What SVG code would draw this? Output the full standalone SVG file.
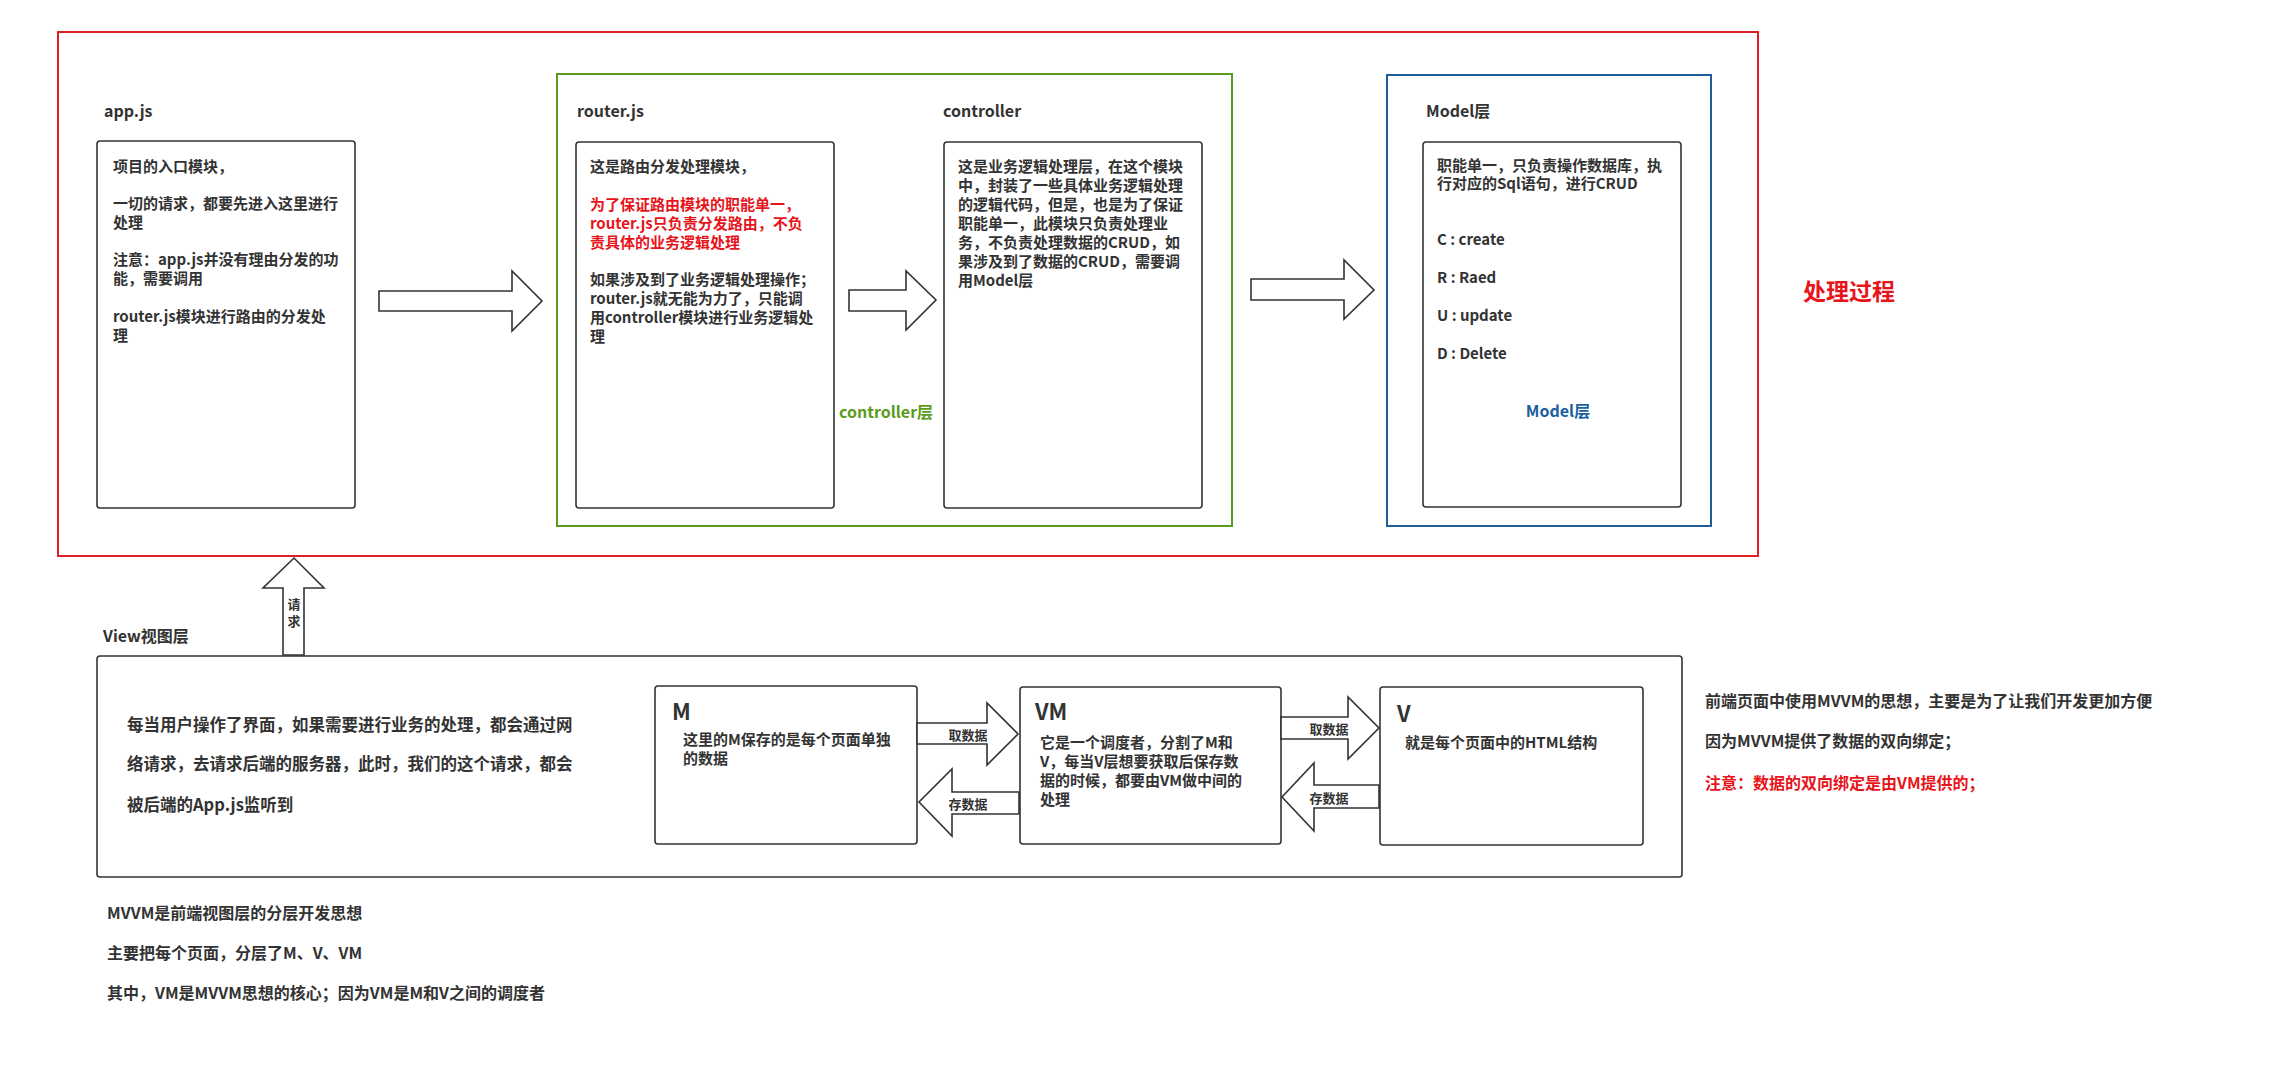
<svg xmlns="http://www.w3.org/2000/svg" width="2275" height="1070" viewBox="0 0 2275 1070">
<style>
text { font-family: "Noto Sans CJK SC", "Microsoft YaHei", sans-serif; font-weight: bold; fill: #333; dominant-baseline: central; }
.t15 { font-size: 15px; }
.t16 { font-size: 16px; }
.tv { font-size: 16.5px; }
.t13 { font-size: 13px; }
.big { font-size: 22px; }
.red { fill: #e8141b; }
.box { fill: #fff; stroke: #333; stroke-width: 1.6; }
.blk { fill: #fff; stroke: #333; stroke-width: 1.6; stroke-linejoin: miter; }
</style>
<rect width="2275" height="1070" fill="#fff"/>

<g id="process-frame">
  <rect x="58" y="32" width="1700" height="524" fill="none" stroke="#e01f26" stroke-width="2"/>
  <text x="1803" y="290" class="red" style="font-size:23px">处理过程</text>
</g>

<g id="controller-layer">
  <rect x="557" y="74" width="675" height="452" fill="none" stroke="#5c9c1c" stroke-width="2"/>
  <text x="839" y="411" class="t16" style="fill:#5c9c1c">controller层</text>
</g>

<g id="model-layer">
  <rect x="1387" y="75" width="324" height="451" fill="none" stroke="#1f5c99" stroke-width="2"/>
</g>

<g id="appjs">
  <text x="104" y="110" class="t16">app.js</text>
  <rect x="97" y="141" width="258" height="367" rx="3" class="box"/>
  <g class="t15">
    <text x="113" y="165">项目的入口模块，</text>
    <text x="113" y="202">一切的请求，都要先进入这里进行</text>
    <text x="113" y="221">处理</text>
    <text x="113" y="258">注意：app.js并没有理由分发的功</text>
    <text x="113" y="277">能，需要调用</text>
    <text x="113" y="315">router.js模块进行路由的分发处</text>
    <text x="113" y="334">理</text>
  </g>
</g>

<g id="routerjs">
  <text x="577" y="110" class="t16">router.js</text>
  <rect x="576" y="142" width="258" height="366" rx="3" class="box"/>
  <g class="t15">
    <text x="590" y="165">这是路由分发处理模块，</text>
    <text x="590" y="203" class="red">为了保证路由模块的职能单一，</text>
    <text x="590" y="222" class="red">router.js只负责分发路由，不负</text>
    <text x="590" y="241" class="red">责具体的业务逻辑处理</text>
    <text x="590" y="278">如果涉及到了业务逻辑处理操作；</text>
    <text x="590" y="297">router.js就无能为力了，只能调</text>
    <text x="590" y="316">用controller模块进行业务逻辑处</text>
    <text x="590" y="335">理</text>
  </g>
</g>

<g id="controller">
  <text x="943" y="110" class="t16">controller</text>
  <rect x="944" y="142" width="258" height="366" rx="3" class="box"/>
  <g class="t15">
    <text x="958" y="165">这是业务逻辑处理层，在这个模块</text>
    <text x="958" y="184">中，封装了一些具体业务逻辑处理</text>
    <text x="958" y="203">的逻辑代码，但是，也是为了保证</text>
    <text x="958" y="222">职能单一，此模块只负责处理业</text>
    <text x="958" y="241">务，不负责处理数据的CRUD，如</text>
    <text x="958" y="260">果涉及到了数据的CRUD，需要调</text>
    <text x="958" y="279">用Model层</text>
  </g>
</g>

<g id="model">
  <text x="1426" y="110" class="t16">Model层</text>
  <rect x="1423" y="142" width="258" height="365" rx="3" class="box"/>
  <g class="t15">
    <text x="1437" y="164">职能单一，只负责操作数据库，执</text>
    <text x="1437" y="182">行对应的Sql语句，进行CRUD</text>
    <text x="1437" y="238">C : create</text>
    <text x="1437" y="276">R : Raed</text>
    <text x="1437" y="314">U : update</text>
    <text x="1437" y="352">D : Delete</text>
  </g>
  <text x="1558" y="410" class="t16" text-anchor="middle" style="fill:#1a5fa0">Model层</text>
</g>

<g id="view">
  <text x="103" y="635" class="t16">View视图层</text>
  <rect x="97" y="656" width="1585" height="221" rx="3" class="box"/>
  <g class="tv">
    <text x="127" y="724">每当用户操作了界面，如果需要进行业务的处理，都会通过网</text>
    <text x="127" y="763">络请求，去请求后端的服务器，此时，我们的这个请求，都会</text>
    <text x="127" y="804">被后端的App.js监听到</text>
  </g>
</g>

<g id="m">
  <rect x="655" y="686" width="262" height="158" rx="3" class="box"/>
  <text x="672" y="710" class="big">M</text>
  <text x="683" y="738" class="t15">这里的M保存的是每个页面单独</text>
  <text x="683" y="757" class="t15">的数据</text>
</g>

<g id="vm">
  <rect x="1020" y="687" width="261" height="157" rx="3" class="box"/>
  <text x="1035" y="710" class="big">VM</text>
  <g class="t15">
    <text x="1040" y="741">它是一个调度者，分割了M和</text>
    <text x="1040" y="760">V，每当V层想要获取后保存数</text>
    <text x="1040" y="779">据的时候，都要由VM做中间的</text>
    <text x="1040" y="798">处理</text>
  </g>
</g>

<g id="v">
  <rect x="1380" y="687" width="263" height="158" rx="3" class="box"/>
  <text x="1397" y="712" class="big">V</text>
  <text x="1405" y="741" class="t15">就是每个页面中的HTML结构</text>
</g>

<g id="notes">
  <g class="t16">
    <text x="1705" y="700">前端页面中使用MVVM的思想，主要是为了让我们开发更加方便</text>
    <text x="1705" y="740">因为MVVM提供了数据的双向绑定；</text>
    <text x="1705" y="782" class="red">注意：数据的双向绑定是由VM提供的；</text>
    <text x="107" y="912">MVVM是前端视图层的分层开发思想</text>
    <text x="107" y="952">主要把每个页面，分层了M、V、VM</text>
    <text x="107" y="992">其中，VM是MVVM思想的核心；因为VM是M和V之间的调度者</text>
  </g>
</g>

<g id="connectors">
  <path class="blk" d="M379,291 H512 V271 L542,301 L512,331 V311 H379 Z"/>
  <path class="blk" d="M849,290 H906 V271 L936,300 L906,330 V311 H849 Z"/>
  <path class="blk" d="M1251,279 H1344 V260 L1374,290 L1344,319 V300 H1251 Z"/>
  <path class="blk" d="M283,655 V588 H263 L294,558 L324,588 H304 V655 Z"/>
  <text x="294" y="603" class="t13" text-anchor="middle">请</text>
  <text x="294" y="620" class="t13" text-anchor="middle">求</text>
  <path class="blk" d="M917,723 H987 V703 L1018,734 L987,765 V744 H917 Z"/>
  <text x="968" y="734" class="t13" text-anchor="middle">取数据</text>
  <path class="blk" d="M1019,792 H952 V769 L919,802 L952,836 V814 H1019 Z"/>
  <text x="968" y="803" class="t13" text-anchor="middle">存数据</text>
  <path class="blk" d="M1281,717 H1348 V697 L1379,728 L1348,759 V739 H1281 Z"/>
  <text x="1329" y="728" class="t13" text-anchor="middle">取数据</text>
  <path class="blk" d="M1379,785 H1314 V763 L1282,797 L1314,831 V808 H1379 Z"/>
  <text x="1329" y="797" class="t13" text-anchor="middle">存数据</text>
</g>
</svg>
